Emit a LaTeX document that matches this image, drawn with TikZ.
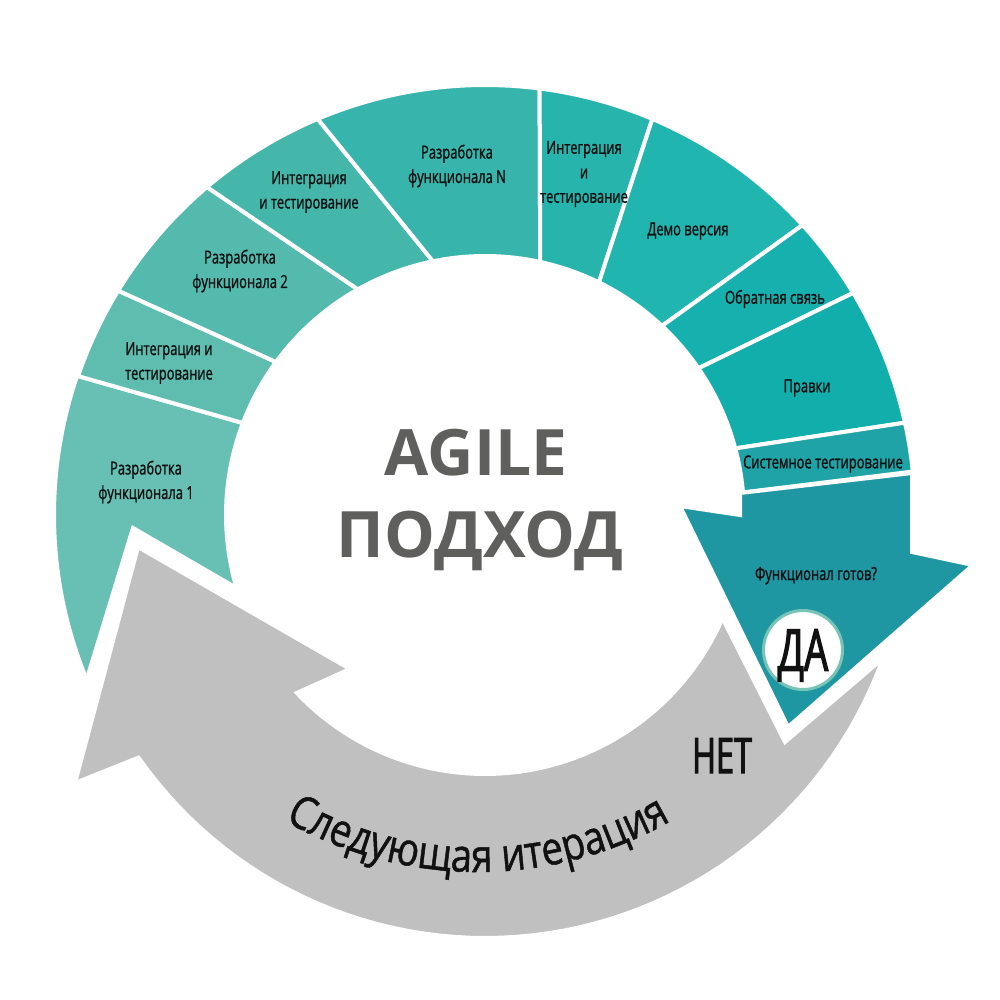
\documentclass[tikz,border=0pt]{standalone}
\usepackage{fontspec}
\setmainfont{Open Sans}
\newfontfamily\condA{Open Sans}[FakeStretch=0.66, FakeBold=2]
\newfontfamily\condB{Open Sans}[FakeStretch=0.72, FakeBold=1.2]
\newfontfamily\condC{Open Sans}[FakeStretch=0.83, FakeBold=1]
\newfontfamily\titlef{Open Sans}
\usetikzlibrary{decorations.text}
\definecolor{cA}{HTML}{67C0B3}
\definecolor{cB}{HTML}{5FBDAF}
\definecolor{cC}{HTML}{53BAAD}
\definecolor{cD}{HTML}{45B6AA}
\definecolor{cE}{HTML}{37B5AC}
\definecolor{cF}{HTML}{27B4AC}
\definecolor{cG}{HTML}{20B5AF}
\definecolor{cH}{HTML}{16B1AE}
\definecolor{cI}{HTML}{12AEAC}
\definecolor{cJ}{HTML}{20A3A6}
\definecolor{cK}{HTML}{1F97A3}
\definecolor{grayarrow}{HTML}{C0C0C0}
\definecolor{titlegray}{HTML}{5F5F5D}
\definecolor{circborder}{HTML}{78C4B6}
\definecolor{txt}{HTML}{111111}
\newcommand\ROut{430}
\newcommand\RIn{259}
\newcommand\ringseg[5]{%
  \path[segstyle, fill=#5] (#1:\ROut) -- plot[domain=#1:#3, samples=30] (\x:\ROut)
    -- (#4:\RIn) -- plot[domain=#4:#2, samples=30] (\x:\RIn) -- cycle;}
\tikzset{
  segstyle/.style={draw=white, line width=4, line join=miter},
  lbl/.style={font=\condB\fontsize{18}{24.5}\selectfont, text=txt, align=center, inner sep=0},
  bigc/.style={font=\condA\fontsize{49}{49}\selectfont, text=txt, inner sep=0},
  titlestyle/.style={font=\titlef\bfseries\fontsize{64}{64}\selectfont, text=titlegray, inner sep=0}
}
\begin{document}
\begin{tikzpicture}[x=1pt,y=-1pt]
\useasboundingbox (0,0) rectangle (1000,1000);
\fill[white] (0,0) rectangle (1000,1000);
\begin{scope}[shift={(485,515)}]
  % grey return arrow
  \path[segstyle, fill=grayarrow] (-347,32) -- (-135,154) -- (136.6:259)
    -- plot[domain=136.6:23.5, samples=60] (\x:259) -- (300,227) -- (19.8:423)
    -- plot[domain=19.8:145, samples=60] (\x:423) -- (-410,268) -- cycle;
  % first segment with notch
  \path[segstyle, fill=cA] (200.8:\RIn) -- (198.85:431)
    -- plot[domain=198.85:157, samples=40] (\x:431) -- (-400,170) -- (-352,13) -- (-245,75)
    -- plot[domain=163:200.8, samples=40] (\x:\RIn) -- cycle;
  \ringseg{198.85}{200.8}{211.45}{216.2}{cB}
  \ringseg{211.45}{216.2}{229.7}{240.6}{cC}
  \ringseg{229.7}{240.6}{247.1}{258.4}{cD}
  \ringseg{247.1}{258.4}{277.3}{282.3}{cE}
  \ringseg{277.3}{282.3}{292.9}{296.1}{cF}
  \ringseg{292.9}{296.1}{317.6}{313.1}{cG}
  \ringseg{317.6}{313.1}{328.9}{325.5}{cH}
  \ringseg{328.9}{325.5}{347.6}{345.1}{cI}
  \ringseg{347.6}{345.1}{354.2}{355.0}{cJ}
  % decision arrow
  \path[segstyle, fill=cK] (255,-22) -- (427,-42) -- (427,37) -- (488,50) -- (303,212)
    -- (195,-9) -- (255,0) -- cycle;
\end{scope}
% curved text
\begin{scope}[shift={(478,482)}]
  \path[decorate, decoration={text along path, text align=center,
    text={|\condC\fontsize{46}{46}\selectfont\color{txt}|Следующая итерация}}]
    plot[domain=128:52, samples=100] (\x:390);
\end{scope}
% labels
\node[lbl] (l1) at (146,482) {Разработка\\функционала 1};
\node[lbl] (l2) at (169,363) {Интеграция и\\тестирование};
\node[lbl] (l3) at (240,271) {Разработка\\функционала 2};
\node[lbl] (l4) at (309,192) {Интеграция\\и тестирование};
\node[lbl] (l5) at (457,166) {Разработка\\функционала N};
\node[lbl] (l6) at (584,174) {Интеграция\\и\\тестирование};
\node[lbl] (l7) at (688,231) {Демо версия};
\node[lbl] (l8) at (775,299) {Обратная связь};
\node[lbl] (l9) at (807,388) {Правки};
\node[lbl] (l10) at (823,464) {Системное тестирование};
\node[lbl, anchor=base] (l11) at (816,580) {Функционал готов?};
\node[circle, minimum size=79, inner sep=0, fill=white, draw=circborder, line width=3,
  font=\condA\fontsize{58}{58}\selectfont, text=txt, text depth=0pt] (da) at (803,650) {ДА};
\node[bigc, anchor=base] (net) at (722,773) {НЕТ};
\node[titlestyle, anchor=base] (t1) at (476,475) {AGILE};
\node[titlestyle, anchor=base] (t2) at (480,557) {ПОДХОД};
\end{tikzpicture}
\end{document}
